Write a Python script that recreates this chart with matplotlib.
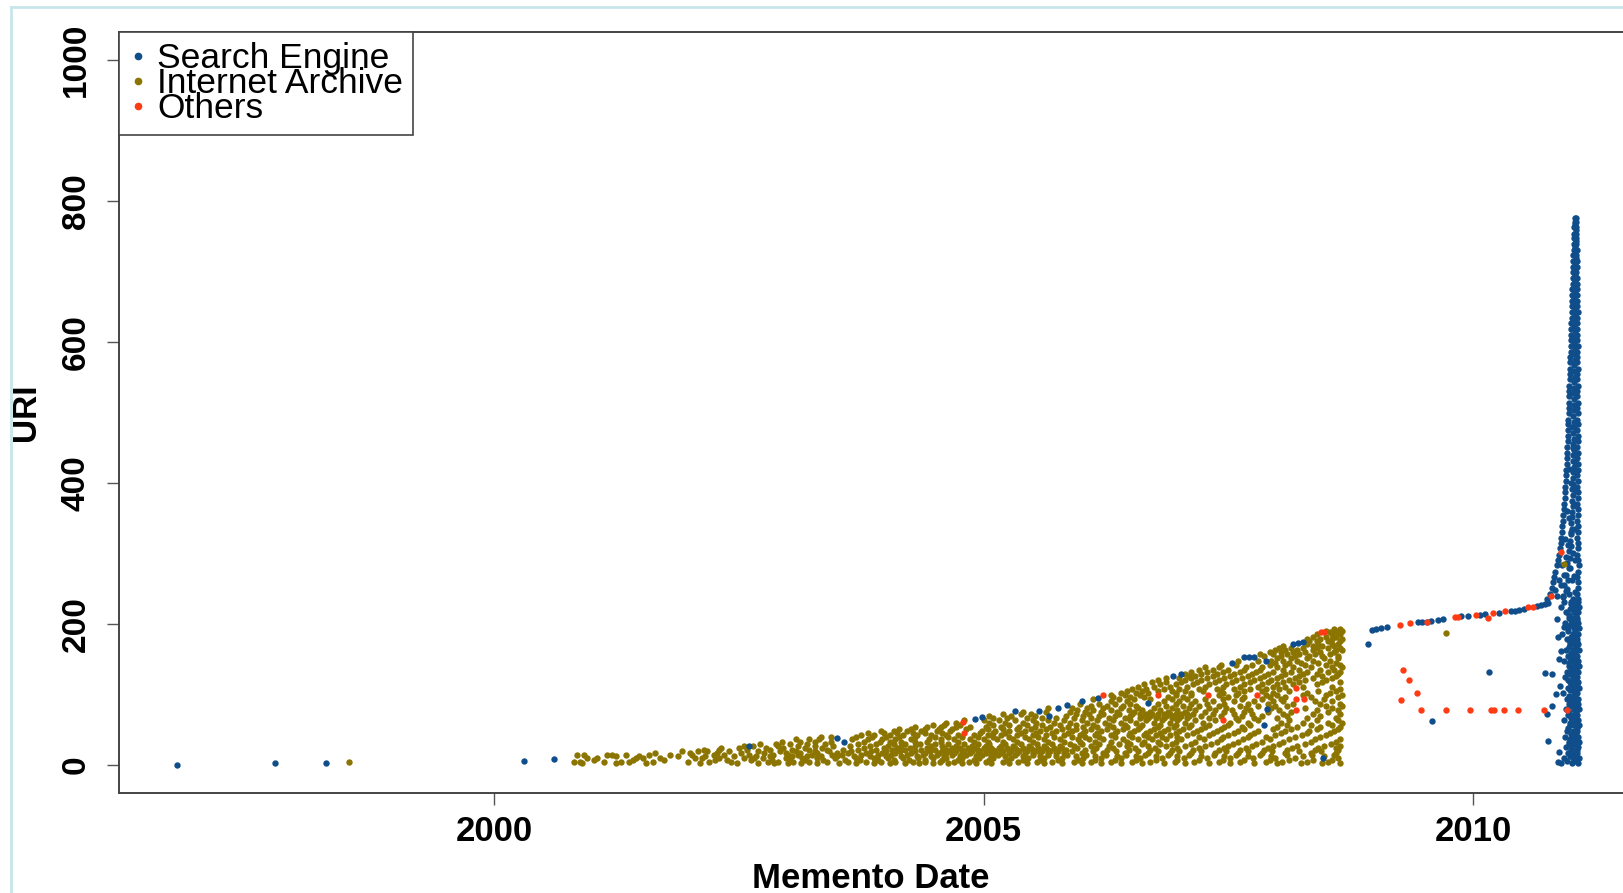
import matplotlib
matplotlib.use("Agg")
import matplotlib.pyplot as plt
from matplotlib.lines import Line2D

plt.rcParams['font.family'] = ['Liberation Sans', 'DejaVu Sans']

se_color = '#0F4E8B'
ia_color = '#8B7500'
ot_color = '#FF3B14'

# ---- Search Engine (blue) ----
# early single mementos + dots along the top edge of the archive cloud
se_x = [1996.76, 1997.76, 1998.28, 2000.31, 2000.61, 2002.60, 2003.50, 2003.57,
        2004.91, 2004.98, 2005.32, 2005.57, 2005.67, 2005.76, 2005.85, 2006.01,
        2006.17, 2006.68, 2006.93, 2007.02, 2007.54, 2007.66, 2007.71, 2007.76,
        2007.88, 2008.16, 2008.21, 2008.26, 2007.89, 2007.86, 2008.47]
se_y = [0, 2, 3, 6, 8, 26, 38, 33,
        65, 68, 77, 77, 69, 81, 85, 90,
        95, 88, 126, 129, 144, 153, 153, 153,
        148, 172, 173, 174, 79, 57, 10]

# slowly rising line 2009-2010 and isolated points
se_line_x = [2008.93, 2008.97, 2009.01, 2009.06, 2009.12, 2009.44, 2009.48, 2009.53,
             2009.57, 2009.64, 2009.69, 2009.88, 2009.95, 2010.07, 2010.12, 2010.26,
             2010.39, 2010.43, 2010.47, 2010.52, 2010.65, 2010.69, 2010.73, 2010.76,
             2010.16, 2009.58]
se_line_y = [171, 192, 193, 194, 195, 202, 203, 203,
             204, 206, 207, 211, 211, 213, 214, 216,
             219, 219, 220, 221, 226, 227, 228, 229,
             132, 62]

# the spike at the end of 2010: left edge, right column and fill
spike_y = [236, 243, 251, 259, 266, 274, 283, 290, 298, 307, 315, 322, 331, 339,
           346, 355, 363, 370, 379, 387, 394, 403, 411, 418, 427, 435, 442, 451,
           459, 466, 475, 483, 490, 499, 507, 514, 523, 531, 538, 547, 555, 562,
           571, 579, 586, 595, 603, 610, 619, 627, 634, 643, 651, 658, 667, 675,
           682, 691, 699, 706, 715, 723, 730, 739, 747, 754, 763, 771, 776]
spike_x_left = [2010.75, 2010.78, 2010.80, 2010.82, 2010.83, 2010.84, 2010.86, 2010.87,
                2010.88, 2010.89, 2010.90, 2010.90, 2010.91, 2010.91, 2010.92, 2010.92,
                2010.93, 2010.93, 2010.94, 2010.94, 2010.94, 2010.95, 2010.95, 2010.95,
                2010.96, 2010.96, 2010.96, 2010.96, 2010.97, 2010.97, 2010.97, 2010.97,
                2010.97, 2010.98, 2010.98, 2010.98, 2010.98, 2010.98, 2010.98, 2010.99,
                2010.99, 2010.99, 2010.99, 2010.99, 2011.00, 2011.00, 2011.00, 2011.00,
                2011.00, 2011.00, 2011.01, 2011.01, 2011.01, 2011.01, 2011.01, 2011.01,
                2011.02, 2011.02, 2011.02, 2011.02, 2011.02, 2011.02, 2011.03, 2011.03,
                2011.03, 2011.03, 2011.03, 2011.04, 2011.04]
spike_x_right = [2011.07, 2011.06, 2011.07, 2011.07, 2011.06, 2011.07, 2011.08, 2011.07,
                 2011.06, 2011.07, 2011.07, 2011.06, 2011.07, 2011.07, 2011.06, 2011.07,
                 2011.07, 2011.06, 2011.07, 2011.07, 2011.06, 2011.07, 2011.06, 2011.07,
                 2011.07, 2011.06, 2011.07, 2011.06, 2011.07, 2011.07, 2011.06, 2011.07,
                 2011.06, 2011.07, 2011.06, 2011.07, 2011.06, 2011.06, 2011.07, 2011.06,
                 2011.06, 2011.07, 2011.06, 2011.06, 2011.06, 2011.07, 2011.06, 2011.06,
                 2011.06, 2011.06, 2011.06, 2011.07, 2011.06, 2011.06, 2011.06, 2011.06,
                 2011.06, 2011.06, 2011.05, 2011.06, 2011.06, 2011.05, 2011.06, 2011.05,
                 2011.05, 2011.05, 2011.05, 2011.05, 2011.05]
spike_y2 = [240, 247, 255, 262, 270, 279, 287, 294, 303, 311,
            318, 327, 335, 343, 351, 359, 367, 375, 383, 391,
            399, 407, 415, 423, 431, 439, 447, 455, 463, 471,
            479, 487, 495, 503, 511, 519, 527, 535, 543, 551,
            559, 567, 575, 583, 591, 599, 607, 615, 623, 631,
            639, 647, 655, 663, 671, 679, 687, 695, 703, 711,
            719, 727, 735, 743, 751, 759, 767]
spike_x_mid = [2010.92, 2010.95, 2010.93, 2010.97, 2010.95, 2010.98, 2010.96, 2010.99, 2010.98, 2011.00,
               2010.99, 2011.00, 2011.01, 2011.00, 2011.01, 2011.01, 2011.02, 2011.01, 2011.02, 2011.01,
               2011.02, 2011.02, 2011.02, 2011.03, 2011.02, 2011.02, 2011.03, 2011.02, 2011.03, 2011.02,
               2011.03, 2011.03, 2011.02, 2011.03, 2011.03, 2011.03, 2011.02, 2011.03, 2011.03, 2011.04,
               2011.03, 2011.03, 2011.04, 2011.03, 2011.04, 2011.03, 2011.04, 2011.04, 2011.03, 2011.04,
               2011.04, 2011.04, 2011.04, 2011.03, 2011.04, 2011.04, 2011.04, 2011.04, 2011.04, 2011.04,
               2011.05, 2011.04, 2011.04, 2011.05, 2011.04, 2011.05, 2011.04]
knee_x = [2010.86, 2010.92, 2010.98, 2011.02, 2010.90, 2010.96, 2011.01, 2010.93,
          2010.99, 2010.95, 2011.02, 2010.97, 2011.00, 2010.98, 2011.03, 2011.00,
          2011.02, 2011.01, 2010.84, 2010.88, 2011.04, 2011.03, 2010.91, 2011.04,
          2010.94, 2011.04, 2010.96, 2011.04, 2010.98, 2011.04]
knee_y = [240, 238, 242, 236, 255, 250, 262, 270,
          280, 295, 300, 312, 330, 350, 370, 400,
          450, 480, 248, 262, 245, 268, 283, 290,
          320, 335, 360, 390, 420, 430]

# dense band below the knee
band_y = [2, 9, 17, 25, 33, 40, 48, 56, 63, 71, 79, 86, 94, 102, 109, 117,
          125, 132, 140, 148, 155, 163, 171, 178, 186, 194, 201, 209, 217, 224, 231]
band_x1 = [2010.90, 2010.93, 2010.97, 2010.95, 2010.98, 2010.94, 2010.96, 2010.99,
           2010.93, 2010.97, 2010.95, 2010.98, 2010.96, 2010.92, 2010.97, 2010.99,
           2010.94, 2010.96, 2010.98, 2010.93, 2010.97, 2010.95, 2010.99, 2010.96,
           2010.91, 2010.97, 2010.94, 2010.98, 2010.95, 2010.90, 2010.93]
band_x2 = [2011.01, 2011.02, 2011.03, 2011.01, 2011.02, 2011.03, 2011.02, 2011.03,
           2011.01, 2011.02, 2011.03, 2011.02, 2011.01, 2011.03, 2011.02, 2011.03,
           2011.02, 2011.01, 2011.03, 2011.02, 2011.03, 2011.02, 2011.01, 2011.03,
           2011.02, 2011.03, 2011.02, 2011.01, 2011.03, 2011.02, 2011.00]
band_x3 = [2011.07, 2011.08, 2011.06, 2011.07, 2011.08, 2011.07, 2011.06, 2011.08,
           2011.07, 2011.06, 2011.08, 2011.07, 2011.07, 2011.06, 2011.08, 2011.07,
           2011.06, 2011.07, 2011.08, 2011.07, 2011.06, 2011.08, 2011.07, 2011.06,
           2011.07, 2011.08, 2011.07, 2011.06, 2011.07, 2011.08, 2011.07]
band_y2 = [5, 13, 21, 29, 37, 44, 52, 60, 67, 75, 83, 90, 98, 106, 113,
           121, 129, 136, 144, 152, 159, 167, 175, 182, 190, 198, 205, 213, 221, 228]
band_x4 = [2010.96, 2010.99, 2011.00, 2010.98, 2010.99, 2011.00, 2010.97, 2010.99,
           2011.00, 2010.98, 2010.99, 2011.00, 2010.98, 2010.99, 2011.00, 2010.97,
           2010.99, 2011.00, 2010.98, 2010.99, 2011.00, 2010.98, 2010.99, 2011.00,
           2010.97, 2010.99, 2011.00, 2010.98, 2010.99, 2011.00]
band_x5 = [2011.05, 2011.04, 2011.06, 2011.05, 2011.04, 2011.05, 2011.06, 2011.05,
           2011.04, 2011.05, 2011.06, 2011.05, 2011.04, 2011.05, 2011.06, 2011.05,
           2011.04, 2011.05, 2011.06, 2011.05, 2011.04, 2011.05, 2011.06, 2011.05,
           2011.04, 2011.05, 2011.06, 2011.05, 2011.04, 2011.05]
band_stray_x = [2010.73, 2010.80, 2010.87, 2010.85, 2010.75, 2010.76, 2010.81, 2010.90,
                2010.88, 2010.93, 2010.86, 2010.88, 2010.87, 2010.89]
band_stray_y = [130, 129, 181, 100, 72, 34, 84, 162,
                150, 195, 207, 18, 4, 112]

# ---- Internet Archive (olive), one row per group of URIs ----
ia_single_x = [1998.52, 2009.72, 2010.93]
ia_single_y = [4, 187, 285]

ia_rows_y = [2, 4, 7, 9, 12, 14, 17, 19, 21, 24, 27, 30, 33, 36, 39, 42, 45, 48, 51, 54,
             57, 60, 63, 66, 69, 72, 75, 78, 81, 84, 87, 90, 93, 96, 99, 102, 105, 108,
             111, 114, 117, 120, 123, 126, 129, 132, 135, 139, 142, 145, 148, 151, 154,
             157, 160, 163, 166, 169, 172, 176, 179, 182, 185, 188, 190, 193]
ia_rows_x = [
    [2000.90, 2001.25, 2001.55, 2002.10, 2002.48, 2002.70, 2002.86, 2003.00, 2003.14, 2003.30,
     2003.52, 2003.70, 2003.88, 2004.04, 2004.20, 2004.34, 2004.48, 2004.64, 2004.78, 2004.92,
     2005.08, 2005.26, 2005.44, 2005.62, 2005.80, 2006.00, 2006.20, 2006.40, 2006.62, 2006.84,
     2007.06, 2007.30, 2007.52, 2007.76, 2008.00, 2008.24, 2008.46, 2008.64],
    [2000.82, 2000.88, 2001.12, 2001.30, 2001.38, 2001.62, 2001.98, 2002.20, 2002.42, 2002.80,
     2002.90, 2003.05, 2003.22, 2003.40, 2003.62, 2003.80, 2003.95, 2004.10, 2004.28, 2004.40,
     2004.55, 2004.70, 2004.85, 2005.02, 2005.20, 2005.35, 2005.55, 2005.70, 2005.92, 2006.10,
     2006.30, 2006.52, 2006.70, 2006.95, 2007.15, 2007.40, 2007.62, 2007.88, 2008.05, 2008.30, 2008.52],
    [2001.02, 2001.42, 2001.74, 2002.26, 2002.38, 2002.62, 2002.84, 2003.02, 2003.18, 2003.36,
     2003.58, 2003.74, 2003.92, 2004.08, 2004.24, 2004.40, 2004.58, 2004.74, 2004.90, 2005.06,
     2005.24, 2005.40, 2005.58, 2005.76, 2005.96, 2006.14, 2006.34, 2006.56, 2006.76, 2006.98,
     2007.20, 2007.44, 2007.66, 2007.92, 2008.12, 2008.36, 2008.56],
    [2000.95, 2001.05, 2001.45, 2001.52, 2001.70, 2002.05, 2002.12, 2002.30, 2002.55, 2002.65,
     2002.75, 2002.98, 2003.15, 2003.30, 2003.48, 2003.70, 2003.88, 2004.02, 2004.18, 2004.33,
     2004.48, 2004.62, 2004.78, 2004.95, 2005.10, 2005.28, 2005.45, 2005.62, 2005.80, 2006.02,
     2006.20, 2006.40, 2006.60, 2006.82, 2007.05, 2007.28, 2007.52, 2007.75, 2007.98, 2008.18, 2008.62],
    [2001.25, 2001.48, 2001.88, 2002.15, 2002.45, 2002.68, 2002.82, 2003.04, 2003.20, 2003.34,
     2003.50, 2003.68, 2003.84, 2004.00, 2004.16, 2004.32, 2004.46, 2004.60, 2004.76, 2004.92,
     2005.08, 2005.22, 2005.40, 2005.58, 2005.74, 2005.94, 2006.14, 2006.36, 2006.56, 2006.76,
     2006.98, 2007.22, 2007.46, 2007.70, 2007.94, 2008.26, 2008.48],
    [2000.85, 2000.92, 2001.15, 2001.20, 2001.35, 2001.58, 2001.80, 2002.02, 2002.25, 2002.35,
     2002.60, 2002.85, 2003.00, 2003.10, 2003.25, 2003.45, 2003.55, 2003.75, 2003.92, 2004.05,
     2004.22, 2004.38, 2004.52, 2004.68, 2004.82, 2004.98, 2005.15, 2005.32, 2005.50, 2005.66,
     2005.85, 2006.05, 2006.25, 2006.45, 2006.65, 2006.88, 2007.10, 2007.35, 2007.58, 2007.82,
     2008.10, 2008.35, 2008.58],
    [2001.64, 2002.00, 2002.28, 2002.52, 2002.76, 2002.98, 2003.12, 2003.30, 2003.50, 2003.62,
     2003.80, 2003.96, 2004.10, 2004.26, 2004.40, 2004.54, 2004.62, 2004.70, 2004.78, 2004.86,
     2004.94, 2005.02, 2005.10, 2005.18, 2005.26, 2005.34, 2005.42, 2005.50, 2005.58, 2005.66,
     2005.74, 2005.82, 2006.00, 2006.22, 2006.44, 2006.68, 2006.90, 2007.12, 2007.36, 2007.60,
     2007.84, 2008.08, 2008.34, 2008.60],
    [2001.92, 2002.08, 2002.18, 2002.40, 2002.70, 2002.92, 2003.08, 2003.28, 2003.42, 2003.65,
     2003.85, 2004.00, 2004.15, 2004.30, 2004.45, 2004.58, 2004.65, 2004.72, 2004.80, 2004.88,
     2004.96, 2005.04, 2005.12, 2005.20, 2005.28, 2005.36, 2005.44, 2005.52, 2005.60, 2005.68,
     2005.76, 2005.90, 2006.12, 2006.35, 2006.58, 2006.78, 2007.00, 2007.22, 2007.48, 2007.70,
     2007.95, 2008.22, 2008.45],
    [2002.14, 2002.30, 2002.58, 2002.82, 2003.04, 2003.22, 2003.40, 2003.56, 2003.72, 2003.90,
     2004.06, 2004.20, 2004.36, 2004.50, 2004.62, 2004.70, 2004.78, 2004.86, 2004.94, 2005.02,
     2005.10, 2005.18, 2005.26, 2005.34, 2005.42, 2005.50, 2005.58, 2005.66, 2005.74, 2005.84,
     2006.04, 2006.26, 2006.48, 2006.70, 2006.92, 2007.14, 2007.40, 2007.62, 2007.86, 2008.10,
     2008.38, 2008.62],
    [2002.32, 2002.50, 2002.78, 2002.95, 2003.18, 2003.35, 2003.78, 2003.98, 2004.12, 2004.25,
     2004.42, 2004.60, 2004.68, 2004.76, 2004.84, 2004.92, 2005.00, 2005.08, 2005.16, 2005.24,
     2005.32, 2005.40, 2005.48, 2005.56, 2005.64, 2005.72, 2005.80, 2005.95, 2006.15, 2006.32,
     2006.55, 2006.75, 2006.98, 2007.20, 2007.45, 2007.68, 2007.90, 2008.15, 2008.42, 2008.60],
    [2002.55, 2002.64, 2002.90, 2003.10, 2003.28, 2003.46, 2003.64, 2003.84, 2004.02, 2004.16,
     2004.30, 2004.46, 2004.58, 2004.72, 2004.88, 2005.02, 2005.18, 2005.30, 2005.46, 2005.62,
     2005.78, 2005.92, 2006.10, 2006.28, 2006.46, 2006.68, 2006.86, 2007.06, 2007.26, 2007.50,
     2007.74, 2007.96, 2008.20, 2008.48, 2008.64],
    [2002.72, 2002.88, 2003.02, 2003.20, 2003.38, 2003.72, 2003.90, 2004.08, 2004.20, 2004.35,
     2004.50, 2004.64, 2004.80, 2004.94, 2005.06, 2005.22, 2005.38, 2005.55, 2005.70, 2005.88,
     2006.00, 2006.18, 2006.38, 2006.50, 2006.62, 2006.80, 2006.92, 2007.12, 2007.32, 2007.55,
     2007.78, 2008.02, 2008.28, 2008.55],
    [2002.94, 2003.12, 2003.28, 2003.44, 2003.78, 2003.94, 2004.04, 2004.16, 2004.30, 2004.42,
     2004.56, 2004.74, 2004.90, 2005.04, 2005.20, 2005.34, 2005.50, 2005.66, 2005.82, 2005.98,
     2006.14, 2006.30, 2006.46, 2006.64, 2006.78, 2006.96, 2007.16, 2007.38, 2007.60, 2007.84,
     2008.06, 2008.34, 2008.60],
    [2003.08, 2003.22, 2003.32, 2003.66, 2003.82, 2003.96, 2004.10, 2004.26, 2004.44, 2004.56,
     2004.70, 2004.86, 2005.00, 2005.14, 2005.30, 2005.46, 2005.62, 2005.78, 2005.96, 2006.08,
     2006.22, 2006.42, 2006.58, 2006.72, 2006.86, 2007.02, 2007.25, 2007.42, 2007.65, 2007.92,
     2008.12, 2008.38, 2008.64],
    [2003.34, 2003.44, 2003.70, 2003.86, 2004.00, 2004.14, 2004.30, 2004.50, 2004.64, 2004.78,
     2004.94, 2005.10, 2005.26, 2005.42, 2005.56, 2005.72, 2005.90, 2006.04, 2006.18, 2006.34,
     2006.52, 2006.68, 2006.82, 2006.98, 2007.20, 2007.44, 2007.70, 2007.88, 2008.18, 2008.44],
    [2003.75, 2003.88, 2004.04, 2004.18, 2004.32, 2004.46, 2004.62, 2004.74, 2004.90, 2005.05,
     2005.18, 2005.34, 2005.50, 2005.64, 2005.82, 2005.98, 2006.14, 2006.30, 2006.48, 2006.64,
     2006.76, 2006.90, 2007.08, 2007.30, 2007.50, 2007.72, 2007.98, 2008.25, 2008.50],
    [2003.82, 2003.98, 2004.12, 2004.28, 2004.40, 2004.58, 2004.96, 2005.10, 2005.22, 2005.38,
     2005.54, 2005.70, 2005.86, 2006.02, 2006.16, 2006.34, 2006.50, 2006.66, 2006.80, 2006.96,
     2007.14, 2007.34, 2007.56, 2007.76, 2008.04, 2008.30, 2008.54],
    [2003.95, 2004.08, 2004.22, 2004.36, 2004.52, 2004.66, 2004.98, 2005.12, 2005.26, 2005.42,
     2005.58, 2005.74, 2005.90, 2006.04, 2006.20, 2006.36, 2006.54, 2006.70, 2006.84, 2007.00,
     2007.18, 2007.38, 2007.60, 2007.80, 2008.08, 2008.32, 2008.58],
    [2004.14, 2004.26, 2004.40, 2004.54, 2004.68, 2004.82, 2005.04, 2005.20, 2005.34, 2005.48,
     2005.64, 2005.80, 2005.94, 2006.10, 2006.26, 2006.42, 2006.58, 2006.74, 2006.88, 2007.04,
     2007.22, 2007.42, 2007.66, 2007.96, 2008.14, 2008.40, 2008.62],
    [2004.30, 2004.42, 2004.56, 2004.72, 2004.86, 2005.02, 2005.18, 2005.36, 2005.52, 2005.68,
     2005.86, 2006.02, 2006.16, 2006.32, 2006.46, 2006.60, 2006.78, 2006.94, 2007.10, 2007.26,
     2007.46, 2007.64, 2008.00, 2008.20, 2008.44, 2008.64],
    [2004.48, 2004.60, 2004.76, 2005.10, 2005.26, 2005.44, 2005.60, 2005.78, 2005.94, 2006.12,
     2006.28, 2006.44, 2006.62, 2006.80, 2006.96, 2007.12, 2007.30, 2007.50, 2007.72, 2008.10,
     2008.34, 2008.56],
    [2004.62, 2004.72, 2005.06, 2005.22, 2005.40, 2005.54, 2005.72, 2005.88, 2006.06, 2006.24,
     2006.40, 2006.56, 2006.74, 2006.90, 2007.06, 2007.24, 2007.52, 2007.70, 2008.04, 2008.26,
     2008.52, 2008.66],
    [2004.80, 2005.00, 2005.16, 2005.32, 2005.50, 2005.66, 2005.82, 2006.00, 2006.16, 2006.32,
     2006.50, 2006.66, 2006.82, 2006.98, 2007.16, 2007.36, 2007.60, 2007.80, 2008.12, 2008.40, 2008.62],
    [2005.10, 2005.24, 2005.44, 2005.60, 2005.74, 2005.92, 2006.10, 2006.28, 2006.44, 2006.60,
     2006.68, 2006.76, 2006.84, 2006.92, 2007.00, 2007.08, 2007.30, 2007.58, 2007.76, 2008.00,
     2008.30, 2008.60],
    [2005.06, 2005.28, 2005.52, 2005.84, 2006.02, 2006.18, 2006.34, 2006.50, 2006.62, 2006.70,
     2006.78, 2006.86, 2006.94, 2007.02, 2007.10, 2007.22, 2007.42, 2007.64, 2007.84, 2008.10, 2008.44],
    [2005.20, 2005.38, 2005.48, 2005.94, 2006.08, 2006.22, 2006.38, 2006.52, 2006.60, 2006.66,
     2006.72, 2006.78, 2006.84, 2006.90, 2006.96, 2007.02, 2007.08, 2007.14, 2007.34, 2007.56,
     2007.74, 2008.06, 2008.36, 2008.64],
    [2005.40, 2005.64, 2005.88, 2006.04, 2006.20, 2006.36, 2006.54, 2006.70, 2006.88, 2007.06,
     2007.26, 2007.46, 2007.66, 2007.90, 2008.14, 2008.52],
    [2005.95, 2006.12, 2006.30, 2006.48, 2006.62, 2006.80, 2006.98, 2007.16, 2007.36, 2007.54,
     2007.72, 2008.02, 2008.40, 2008.62],
    [2005.66, 2005.90, 2006.06, 2006.22, 2006.40, 2006.58, 2006.74, 2006.92, 2007.10, 2007.30,
     2007.48, 2007.68, 2007.94, 2008.28, 2008.56],
    [2006.10, 2006.26, 2006.42, 2006.56, 2006.86, 2007.04, 2007.20, 2007.40, 2007.62, 2007.80,
     2007.98, 2008.10, 2008.50, 2008.66],
    [2005.98, 2006.18, 2006.34, 2006.50, 2006.78, 2006.96, 2007.12, 2007.28, 2007.46, 2007.70,
     2007.90, 2008.16, 2008.44, 2008.64],
    [2006.30, 2006.46, 2006.84, 2007.00, 2007.16, 2007.34, 2007.56, 2007.76, 2007.96, 2008.06,
     2008.38, 2008.56],
    [2006.12, 2006.38, 2006.54, 2006.70, 2006.92, 2007.08, 2007.26, 2007.44, 2007.64, 2007.84,
     2008.04, 2008.48],
    [2006.32, 2006.50, 2006.64, 2006.88, 2007.04, 2007.50, 2007.66, 2007.92, 2008.08, 2008.34, 2008.62],
    [2006.30, 2006.44, 2006.60, 2006.96, 2007.12, 2007.40, 2007.58, 2007.88, 2008.00, 2008.26,
     2008.50, 2008.66],
    [2006.40, 2006.56, 2006.68, 2006.96, 2007.12, 2007.44, 2007.60, 2007.96, 2008.30, 2008.54],
    [2006.46, 2006.62, 2006.78, 2006.92, 2007.06, 2007.24, 2007.42, 2007.66, 2007.84, 2008.12,
     2008.42, 2008.60],
    [2006.52, 2006.66, 2006.84, 2007.00, 2007.20, 2007.38, 2007.56, 2007.72, 2007.88, 2008.02, 2008.64],
    [2006.58, 2006.74, 2006.90, 2007.08, 2007.26, 2007.44, 2007.62, 2007.80, 2007.96, 2008.08,
     2008.26, 2008.56],
    [2006.64, 2006.80, 2006.96, 2007.14, 2007.30, 2007.48, 2007.66, 2007.84, 2008.00, 2008.16, 2008.40],
    [2006.72, 2006.86, 2007.02, 2007.18, 2007.36, 2007.54, 2007.72, 2007.90, 2008.06, 2008.22,
     2008.46, 2008.64],
    [2006.78, 2007.06, 2007.22, 2007.40, 2007.58, 2007.76, 2007.94, 2008.12, 2008.28, 2008.50],
    [2006.86, 2007.00, 2007.12, 2007.28, 2007.46, 2007.64, 2007.82, 2008.00, 2008.18, 2008.36, 2008.56],
    [2007.10, 2007.16, 2007.34, 2007.52, 2007.70, 2007.86, 2008.04, 2008.22, 2008.46, 2008.60],
    [2007.06, 2007.22, 2007.38, 2007.56, 2007.74, 2007.90, 2008.08, 2008.26, 2008.40, 2008.62],
    [2007.12, 2007.28, 2007.44, 2007.62, 2007.78, 2007.96, 2008.14, 2008.30, 2008.52, 2008.64],
    [2007.20, 2007.34, 2007.50, 2007.66, 2007.82, 2008.06, 2008.22, 2008.44, 2008.58],
    [2007.26, 2007.40, 2007.68, 2007.84, 2008.00, 2008.16, 2008.34, 2008.56, 2008.66],
    [2007.42, 2007.58, 2007.74, 2007.92, 2008.08, 2008.28, 2008.50, 2008.64],
    [2007.98, 2008.12, 2008.24, 2008.42, 2008.60],
    [2007.60, 2007.80, 2007.94, 2008.06, 2008.20, 2008.36, 2008.54],
    [2008.00, 2008.14, 2008.30, 2008.48, 2008.62],
    [2007.86, 2008.04, 2008.18, 2008.32, 2008.46, 2008.62],
    [2007.82, 2007.96, 2008.10, 2008.22, 2008.38, 2008.54],
    [2007.92, 2008.04, 2008.16, 2008.28, 2008.44, 2008.58],
    [2007.98, 2008.08, 2008.20, 2008.36, 2008.60, 2008.66],
    [2008.02, 2008.14, 2008.26, 2008.40, 2008.52, 2008.64],
    [2008.06, 2008.36, 2008.46, 2008.58],
    [2008.30, 2008.42, 2008.56, 2008.62],
    [2008.32, 2008.40, 2008.52, 2008.64],
    [2008.30, 2008.44, 2008.56, 2008.66],
    [2008.36, 2008.50, 2008.60],
    [2008.40, 2008.56, 2008.64],
    [2008.54, 2008.62],
    [2008.50, 2008.60, 2008.66],
    [2008.58, 2008.64],
]

# ---- Others (red) ----
ot_x = [2004.79, 2004.80, 2006.22, 2006.78, 2007.29, 2007.79, 2007.44, 2008.19,
        2008.19, 2008.27, 2008.19, 2008.45, 2008.48,
        2009.25, 2009.35, 2009.53, 2009.81, 2009.85, 2010.03, 2010.15, 2010.20,
        2010.33, 2010.56, 2010.61, 2010.79, 2010.90,
        2009.28, 2009.34, 2009.43, 2009.26, 2009.47, 2009.72, 2009.97, 2010.18,
        2010.21, 2010.31, 2010.46, 2010.72, 2010.96]
ot_y = [61, 45, 99, 99, 99, 99, 64, 109,
        93, 93, 78, 188, 189,
        198, 201, 203, 210, 210, 212, 209, 216,
        218, 224, 224, 240, 302,
        135, 120, 102, 92, 78, 78, 78, 78,
        78, 78, 78, 78, 78]

ia_x = [x for row in ia_rows_x for x in row]
ia_y = [y for y, row in zip(ia_rows_y, ia_rows_x) for _ in row]

all_se_x = se_x + se_line_x + spike_x_left + spike_x_right + spike_x_mid + knee_x \
    + band_x1 + band_x2 + band_x3 + band_x4 + band_x5 + band_stray_x
all_se_y = se_y + se_line_y + spike_y + spike_y + spike_y2 + knee_y \
    + band_y + band_y + band_y + band_y2 + band_y2 + band_stray_y

fig = plt.figure(figsize=(16.23, 8.93), dpi=100)
ax = fig.add_axes([119 / 1623, 100 / 893, 1 - 119 / 1623, 761 / 893])

dot = 21
ax.scatter(all_se_x, all_se_y, s=dot, color=se_color, linewidths=0, zorder=3)
ax.scatter(ia_x, ia_y, s=dot, color=ia_color, linewidths=0, zorder=2)
ax.scatter(ia_single_x, ia_single_y, s=dot, color=ia_color, linewidths=0, zorder=4)
ax.scatter(ot_x, ot_y, s=dot, color=ot_color, linewidths=0, zorder=5)

ax.set_xlim(1996.17, 2011.53)
ax.set_ylim(-40, 1040)
ax.set_xticks([2000, 2005, 2010])
ax.set_yticks([0, 200, 400, 600, 800, 1000])

for side in ['left', 'top', 'bottom']:
    ax.spines[side].set_color('#444444')
    ax.spines[side].set_linewidth(1.4)
ax.spines['right'].set_visible(False)

ax.tick_params(axis='both', direction='out', length=8.6, width=1.0, color='#555555')
ax.tick_params(axis='x', pad=7, labelsize=25)
ax.tick_params(axis='y', pad=11, labelsize=24)
for lab in ax.get_xticklabels() + ax.get_yticklabels():
    lab.set_fontweight('bold')
for lab in ax.get_yticklabels():
    lab.set_rotation(90)
    lab.set_va('center')

ax.set_xlabel('Memento Date', fontsize=25, fontweight='bold')
ax.set_ylabel('URI', fontsize=24, fontweight='bold')
ax.xaxis.set_label_coords(0.5, -0.091)
ax.yaxis.set_label_coords(-0.051, 0.5)

handles = [Line2D([], [], marker='o', linestyle='none', color=c, markersize=4.5)
           for c in [se_color, ia_color, ot_color]]
leg = ax.legend(handles, ['Search Engine', 'Internet Archive', 'Others'],
                loc='upper left', bbox_to_anchor=(0, 1), borderaxespad=0,
                fancybox=False, edgecolor='#444444', framealpha=1,
                fontsize=25.5, labelspacing=-0.23, handlelength=0.5,
                handletextpad=0.28, borderpad=0.29)
leg.get_frame().set_linewidth(1.2)

# light blue frame of the original screenshot
fig.add_artist(Line2D([10.5 / 1623, 1], [1 - 6.5 / 893, 1 - 6.5 / 893],
                      transform=fig.transFigure, color='#C6E6EA', linewidth=2))
fig.add_artist(Line2D([10.5 / 1623, 10.5 / 1623], [0, 1 - 6.5 / 893],
                      transform=fig.transFigure, color='#C6E6EA', linewidth=2))

fig.savefig('out.png', dpi=100)
